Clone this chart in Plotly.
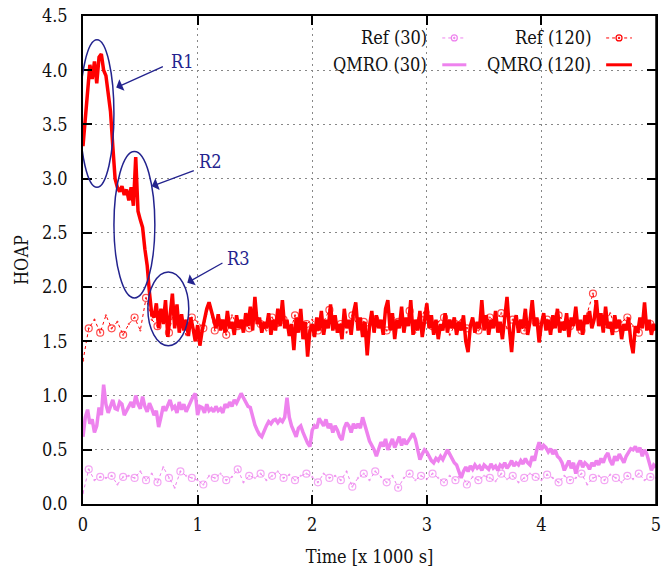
import numpy as np
import plotly.graph_objects as go

# ---------------- data ----------------
qmro120 = [
    3.30, 3.55, 3.85, 4.05, 3.92, 4.08, 3.88, 4.12, 4.15, 4.00,
    3.95, 3.80, 3.62, 3.30, 3.00, 2.92, 2.88, 2.93, 2.85, 2.90,
    2.80, 2.92, 2.75, 3.20, 2.70, 2.62, 2.55, 2.35, 2.20, 1.95,
    1.75, 1.72, 1.85, 1.62, 1.80, 1.66, 1.88, 1.54, 1.78, 1.94,
    1.62, 1.84, 1.58, 1.75, 1.60, 1.70, 1.55, 1.72, 1.62, 1.50,
    1.65, 1.46, 1.60, 1.72, 1.80, 1.86, 1.78, 1.70, 1.62, 1.75,
    1.60, 1.70, 1.58, 1.78, 1.62, 1.68, 1.56, 1.74, 1.62, 1.70,
    1.58, 1.76, 1.64, 1.82, 1.60, 1.91, 1.66, 1.72, 1.58, 1.68,
    1.62, 1.76, 1.56, 1.70, 1.60, 1.80, 1.64, 1.88, 1.62, 1.70,
    1.55, 1.66, 1.42, 1.72, 1.58, 1.80, 1.52, 1.68, 1.36, 1.60,
    1.66, 1.54, 1.72, 1.60, 1.78, 1.56, 1.70, 1.62, 1.84, 1.60,
    1.74, 1.58, 1.66, 1.52, 1.80, 1.62, 1.70, 1.56, 1.76, 1.86,
    1.60, 1.72, 1.54, 1.68, 1.37, 1.64, 1.78, 1.58, 1.74, 1.62,
    1.70, 1.56, 1.80, 1.88, 1.60, 1.76, 1.52, 1.70, 1.62, 1.82,
    1.58, 1.72, 1.64, 1.88, 1.56, 1.70, 1.60, 1.78, 1.54, 1.68,
    1.85, 1.62, 1.74, 1.56, 1.70, 1.52, 1.66, 1.60, 1.76, 1.58,
    1.70, 1.62, 1.72, 1.56, 1.68, 1.60, 1.74, 1.50, 1.40, 1.64,
    1.72, 1.58, 1.68, 1.62, 1.88, 1.60, 1.74, 1.56, 1.70, 1.62,
    1.78, 1.58, 1.68, 1.52, 1.72, 1.91, 1.62, 1.40, 1.66, 1.74,
    1.58, 1.70, 1.62, 1.80, 1.56, 1.68, 1.88, 1.64, 1.72, 1.49,
    1.66, 1.76, 1.60, 1.70, 1.56, 1.74, 1.62, 1.80, 1.58, 1.68,
    1.60, 1.76, 1.54, 1.72, 1.64, 1.82, 1.60, 1.70, 1.56, 1.74,
    1.66, 1.78, 1.62, 1.70, 1.88, 1.64, 1.76, 1.58, 1.82, 1.62,
    1.68, 1.56, 1.74, 1.62, 1.70, 1.52, 1.66, 1.60, 1.72, 1.50,
    1.39, 1.64, 1.58, 1.72, 1.62, 1.86, 1.60, 1.70, 1.56, 1.66,
    1.60,
]

qmro30 = [
    0.62, 0.80, 0.87, 0.74, 0.78, 0.66, 0.72, 0.89, 0.82, 1.10,
    0.92, 0.84, 0.90, 0.96, 0.88, 0.87, 0.94, 0.92, 0.82, 0.86,
    0.89, 0.94, 0.89, 1.00, 0.92, 0.88, 0.99, 0.90, 0.85, 0.93,
    0.88, 0.82, 0.86, 0.71, 0.80, 0.90, 0.86, 0.92, 0.96, 0.88,
    0.90, 0.84, 0.94, 0.87, 0.92, 0.85, 0.90, 0.96, 0.99, 1.02,
    0.82, 0.90, 0.89, 0.84, 0.92, 0.86, 0.88, 0.85, 0.90, 0.86,
    0.88, 0.84, 0.92, 0.89, 0.94, 0.90, 0.96, 0.93, 0.98, 1.02,
    0.98, 0.94, 0.90, 0.89, 0.80, 0.73, 0.68, 0.64, 0.62, 0.68,
    0.72, 0.76, 0.74, 0.77, 0.78, 0.75, 0.78, 0.76, 0.80, 0.98,
    0.80, 0.72, 0.66, 0.62, 0.70, 0.72, 0.66, 0.60, 0.56, 0.53,
    0.68, 0.72, 0.70, 0.79, 0.76, 0.72, 0.78, 0.70, 0.74, 0.66,
    0.72, 0.68, 0.62, 0.59, 0.70, 0.75, 0.72, 0.66, 0.74, 0.70,
    0.74, 0.70, 0.80, 0.72, 0.64, 0.58, 0.54, 0.50, 0.44, 0.52,
    0.57, 0.53, 0.60, 0.50, 0.56, 0.60, 0.52, 0.58, 0.62, 0.54,
    0.60, 0.55, 0.58, 0.62, 0.65, 0.60, 0.50, 0.41, 0.46, 0.50,
    0.48, 0.44, 0.40, 0.38, 0.42, 0.40, 0.44, 0.41, 0.46, 0.50,
    0.46, 0.42, 0.38, 0.36, 0.30, 0.24, 0.30, 0.34, 0.30, 0.35,
    0.32, 0.36, 0.33, 0.35, 0.31, 0.36, 0.34, 0.32, 0.37, 0.33,
    0.35, 0.31, 0.36, 0.34, 0.38, 0.33, 0.36, 0.40, 0.35, 0.38,
    0.36, 0.40, 0.37, 0.42, 0.38, 0.36, 0.44, 0.40, 0.50, 0.57,
    0.50, 0.54, 0.52, 0.48, 0.51, 0.46, 0.50, 0.44, 0.42, 0.38,
    0.31, 0.36, 0.40, 0.33, 0.38, 0.28, 0.36, 0.40, 0.34, 0.38,
    0.36, 0.32, 0.38, 0.35, 0.40, 0.36, 0.42, 0.38, 0.44, 0.47,
    0.40, 0.36, 0.44, 0.40, 0.46, 0.42, 0.38, 0.44, 0.48, 0.51,
    0.50, 0.53, 0.48, 0.52, 0.44, 0.50, 0.46, 0.38, 0.31, 0.36,
    0.34,
]

ref30 = [
    0.10, 0.32, 0.22, 0.25, 0.24, 0.26, 0.18, 0.25, 0.26, 0.24,
    0.30, 0.22, 0.28, 0.20, 0.34, 0.24, 0.15, 0.30, 0.26, 0.24,
    0.22, 0.18, 0.26, 0.24, 0.28, 0.22, 0.25, 0.32, 0.20, 0.26,
    0.24, 0.28, 0.22, 0.26, 0.30, 0.24, 0.27, 0.22, 0.26, 0.28,
    0.25, 0.20, 0.28, 0.24, 0.26, 0.22, 0.30, 0.16, 0.24, 0.28,
    0.22, 0.30, 0.25, 0.20, 0.26, 0.15, 0.24, 0.28, 0.22, 0.26,
    0.23, 0.28, 0.24, 0.20, 0.26, 0.22, 0.28, 0.18, 0.25, 0.22,
    0.26, 0.24, 0.21, 0.28, 0.23, 0.26, 0.20, 0.24, 0.28, 0.25,
    0.22, 0.27, 0.24, 0.20, 0.26, 0.22, 0.24, 0.28, 0.18, 0.24,
    0.26, 0.22, 0.27, 0.24, 0.20, 0.26, 0.23, 0.28, 0.22, 0.25,
    0.24,
]

ref120 = [
    1.32, 1.62, 1.70, 1.58, 1.74, 1.62, 1.68, 1.56, 1.66, 1.72,
    1.60, 1.90, 1.70, 1.64, 1.78, 1.58, 1.82, 1.66, 1.56, 1.72,
    1.68, 1.62, 1.84, 1.60, 1.70, 1.56, 1.74, 1.64, 1.68, 1.62,
    1.82, 1.66, 1.60, 1.72, 1.64, 1.70, 1.56, 1.74, 1.62, 1.66,
    1.70, 1.60, 1.68, 1.79, 1.62, 1.66, 1.58, 1.74, 1.64, 1.68,
    1.62, 1.70, 1.66, 1.60, 1.74, 1.68, 1.62, 1.78, 1.58, 1.70,
    1.85, 1.64, 1.68, 1.72, 1.56, 1.66, 1.70, 1.62, 1.66, 1.60,
    1.64, 1.72, 1.68, 1.76, 1.62, 1.70, 1.66, 1.60, 1.72, 1.68,
    1.66, 1.70, 1.62, 1.74, 1.68, 1.64, 1.72, 1.60, 1.76, 1.94,
    1.70, 1.66, 1.76, 1.62, 1.68, 1.72, 1.64, 1.58, 1.70, 1.66,
    1.62,
]

series_names = ["Ref (30)", "Ref (120)", "QMRO (30)", "QMRO (120)"]
x_ticks = [0, 1, 2, 3, 4, 5]
y_ticks = [0.0, 0.5, 1.0, 1.5, 2.0, 2.5, 3.0, 3.5, 4.0, 4.5]
region_labels = ["R1", "R2", "R3"]

# ---------------- styling ----------------
RED = "#ff0000"
PINK = "#ee82ee"
NAVY = "#23238e"
FONT = "DejaVu Serif Condensed, DejaVu Serif, serif"

t_q120 = np.linspace(0, 5, len(qmro120))
t_q30 = np.linspace(0, 5, len(qmro30))
t_r30 = np.linspace(0, 5, len(ref30))
t_r120 = np.linspace(0, 5, len(ref120))


def marker_sizes(n):
    return [7 if i % 2 == 1 else 0 for i in range(n)]


fig = go.Figure()
fig.add_trace(go.Scatter(x=t_q30, y=qmro30, mode="lines", name=series_names[2],
                         line=dict(color=PINK, width=3.5)))
fig.add_trace(go.Scatter(x=t_q120, y=qmro120, mode="lines", name=series_names[3],
                         line=dict(color=RED, width=3.5)))
fig.add_trace(go.Scatter(x=t_r30, y=ref30, mode="lines+markers", name=series_names[0],
                         line=dict(color=PINK, width=1, dash="3px,3px"),
                         marker=dict(symbol="circle-open-dot", size=marker_sizes(len(ref30)),
                                     color=PINK, line=dict(width=1.2, color=PINK))))
fig.add_trace(go.Scatter(x=t_r120, y=ref120, mode="lines+markers", name=series_names[1],
                         line=dict(color=RED, width=1, dash="3px,3px"),
                         marker=dict(symbol="circle-open-dot", size=marker_sizes(len(ref120)),
                                     color=RED, line=dict(width=1.2, color=RED))))

# ellipses marking regions
ellipses = [
    (-0.026, 2.92, 0.27, 4.28),
    (0.27, 1.90, 0.627, 3.25),
    (0.566, 1.46, 0.923, 2.14),
]
for (x0, y0, x1, y1) in ellipses:
    fig.add_shape(type="circle", xref="x", yref="y", x0=x0, y0=y0, x1=x1, y1=y1,
                  line=dict(color=NAVY, width=1.5))

# arrows + labels
arrows = [
    # text pos, tail, head
    ((0.87, 4.08), (0.71, 4.04), (0.29, 3.84)),
    ((1.11, 3.16), (0.98, 3.08), (0.60, 2.93)),
    ((1.36, 2.26), (1.23, 2.23), (0.91, 2.04)),
]
for lab, (tpos, tail, head) in zip(region_labels, arrows):
    fig.add_annotation(x=head[0], y=head[1], ax=tail[0], ay=tail[1], xref="x", yref="y",
                       axref="x", ayref="y", text="", showarrow=True,
                       arrowhead=1, arrowsize=1.6, arrowwidth=1.3, arrowcolor=NAVY)
    fig.add_annotation(x=tpos[0], y=tpos[1], xref="x", yref="y", text=lab, showarrow=False,
                       font=dict(family=FONT, size=18, color=NAVY))

# custom gnuplot-like legend
leg_rows = [0.955, 0.900]
leg_text_x = [0.604, 0.890]
leg_samp = [(0.627, 0.669), (0.913, 0.958)]
entries = [
    (series_names[0], 0, 0, PINK, True),
    (series_names[1], 0, 1, RED, True),
    (series_names[2], 1, 0, PINK, False),
    (series_names[3], 1, 1, RED, False),
]
for name, r, c, col, is_ref in entries:
    yy = leg_rows[r]
    fig.add_annotation(x=leg_text_x[c], y=yy, xref="paper", yref="paper", text=name,
                       showarrow=False, xanchor="right", yanchor="middle",
                       font=dict(family=FONT, size=18, color="#111111"))
    sx0, sx1 = leg_samp[c]
    if is_ref:
        fig.add_shape(type="line", xref="paper", yref="paper", x0=sx0, x1=sx1, y0=yy, y1=yy,
                      line=dict(color=col, width=1, dash="3px,3px"))
        xm = (sx0 + sx1) / 2
        fig.add_shape(type="circle", xref="paper", yref="paper", xsizemode="pixel",
                      ysizemode="pixel", xanchor=xm, yanchor=yy, x0=-3, x1=3, y0=-3, y1=3,
                      line=dict(color=col, width=1.2), fillcolor="white")
        fig.add_shape(type="circle", xref="paper", yref="paper", xsizemode="pixel",
                      ysizemode="pixel", xanchor=xm, yanchor=yy, x0=-0.8, x1=0.8, y0=-0.8, y1=0.8,
                      line=dict(color=col, width=1), fillcolor=col)
    else:
        fig.add_shape(type="line", xref="paper", yref="paper", x0=sx0, x1=sx1, y0=yy, y1=yy,
                      line=dict(color=col, width=3))

# right-hand frame edge (gnuplot border)
fig.add_shape(type="line", xref="paper", yref="paper", x0=1, x1=1, y0=0, y1=1,
              line=dict(color="black", width=1.5), layer="above")

axis_common = dict(
    showline=True, linecolor="black", linewidth=1.5, mirror="ticks",
    ticks="inside", ticklen=9, tickwidth=1.5, tickcolor="black",
    showgrid=True, gridcolor="#888888", gridwidth=1, griddash="2px,4px",
    zeroline=False, tickfont=dict(family=FONT, size=18, color="#111111"),
    automargin=False, ticklabeloverflow="allow",
)

fig.update_layout(
    width=662, height=574,
    margin=dict(l=83, r=6, t=16, b=70),
    paper_bgcolor="white", plot_bgcolor="white",
    showlegend=False,
    font=dict(family=FONT, size=18, color="#111111"),
    xaxis=dict(range=[0, 5], tickvals=x_ticks, ticktext=[str(v) for v in x_ticks],
               title=dict(text="Time [x 1000 s]", standoff=16,
                          font=dict(family=FONT, size=18, color="#111111")),
               ticklabelstandoff=4, **axis_common),
    yaxis=dict(range=[0, 4.5], tickvals=y_ticks, ticktext=[f"{v:.1f}" for v in y_ticks],
               title=dict(text="HOAP", standoff=9,
                          font=dict(family=FONT, size=18, color="#111111")),
               ticklabelstandoff=10, **axis_common),
)

fig.write_html(
    "out.html",
    config={"displayModeBar": False},
    post_script=("document.body.style.margin='0';document.body.style.padding='0';"
                 "document.body.style.overflow='hidden';"
                 "document.documentElement.style.overflow='hidden';"),
)
